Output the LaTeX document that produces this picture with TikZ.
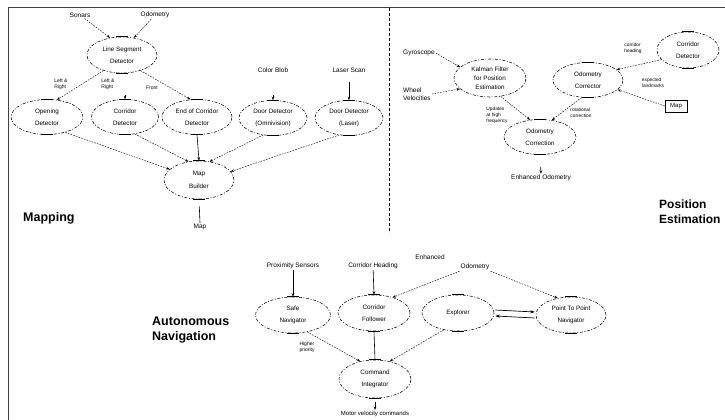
\documentclass[tikz,border=0pt]{standalone}
\usepackage{fontspec}
\setmainfont{Liberation Sans}
\usetikzlibrary{shapes.geometric,arrows.meta}
\begin{document}
\begin{tikzpicture}[x=1pt,y=-1pt,
  proc/.style={ellipse,draw,line width=0.55pt,dash pattern=on 3pt off 1.6pt on 1pt off 1.6pt,inner sep=0pt,align=center,font=\fontsize{6.3}{12.5}\selectfont,minimum width=70pt,minimum height=36pt},
  txt/.style={inner sep=1pt,font=\fontsize{6.5}{7.5}\selectfont,align=center},
  lab/.style={inner sep=0.5pt,font=\fontsize{5}{6}\selectfont,align=left},
  ttl/.style={inner sep=0pt,font=\fontsize{12.5}{15}\selectfont\bfseries,align=left,anchor=west},
  dline/.style={draw,line width=0.45pt,dash pattern=on 1.6pt off 1.2pt,-{Stealth[length=3.5pt,width=2.6pt]}},
  sline/.style={draw,line width=0.6pt,-{Stealth[length=3.5pt,width=2.6pt]}},
  pline/.style={draw,line width=0.6pt},
]
\useasboundingbox (0,0) rectangle (725,420);
% frame
\draw[line width=1pt,black!75] (8,420) -- (8,8) -- (725,8);
\draw[line width=0.7pt,dash pattern=on 3pt off 2pt] (389,8) -- (389,233);

% ---------------- Mapping ----------------
\node[txt] (sonars) at (80,15) {Sonars};
\node[txt] (odom1) at (155,15) {Odometry};
\node[proc] (lsd) at (122,55) {Line Segment\\Detector};
\node[proc,minimum width=72pt,minimum height=35pt] (open) at (47,117) {Opening\\Detector};
\node[proc,minimum width=67pt,minimum height=35pt] (corr) at (125,117) {Corridor\\Detector};
\node[proc,minimum width=70pt,minimum height=35pt] (eoc) at (197,117) {End of Corridor\\Detector};
\node[proc,minimum width=68pt,minimum height=35pt] (domni) at (273,118) {Door Detector\\(Omnivision)};
\node[proc,minimum width=68pt,minimum height=35pt] (dlaser) at (349,118) {Door Detector\\(Laser)};
\node[txt] (cblob) at (273,70) {Color Blob};
\node[txt] (lscan) at (349,70) {Laser Scan};
\node[proc,minimum height=38pt] (mapb) at (199,180) {Map\\Builder};
\node[txt] (map) at (200,227) {Map};
\node[lab] (lr1) at (61,84) {Left \&\\Right};
\node[lab] (lr2) at (108,84) {Left \&\\Right};
\node[lab] (front) at (152,88) {Front};
\node[ttl] (tmap) at (23,218) {Mapping};
\coordinate (corrin) at (125,95);
\coordinate (omniin) at (273,95);

\draw[dline] (sonars) -- (lsd.125);
\draw[dline] (odom1) -- (lsd.55);
\draw[dline] (lsd.220) -- (open.60);
\draw[dline] (lsd.-40) -- (eoc.110);
\draw[sline] (corrin) -- (corr.north);
\draw[sline] (omniin) -- (domni.north);
\draw[sline] ([yshift=-8pt]lscan.south) -- (dlaser.north);
\draw[dline] (open.-40) -- (mapb.160);
\draw[dline] (corr.-60) -- (mapb.120);
\draw[sline] (eoc.south) -- (mapb.north);
\draw[dline] (domni.-120) -- (mapb.60);
\draw[dline] (dlaser.-120) -- (mapb.15);
\draw[pline,shorten <=7pt] (mapb.south) -- (map.north);

% ---------------- Position Estimation ----------------
\node[txt,align=left,anchor=west] (gyro) at (402,53) {Gyroscope};
\node[txt,align=left,anchor=west] (wheel) at (402,94) {Wheel\\Velocities};
\node[proc,minimum width=72pt,minimum height=38pt,font=\fontsize{6.3}{9}\selectfont] (kalman) at (490,78) {Kalman Filter\\for Position\\Estimation};
\node[lab,font=\fontsize{4.8}{6}\selectfont] (upd) at (497,115) {Updates\\at high\\frequency};
\node[proc,minimum width=72pt,minimum height=35pt] (oc) at (540,137) {Odometry\\Correction};
\node[txt] (enh) at (541,178) {Enhanced Odometry};
\node[proc,minimum width=70pt,minimum height=35pt] (ocor) at (588,80) {Odometry\\Corrector};
\node[lab,font=\fontsize{4.8}{6}\selectfont] (rot) at (581,113) {rotational\\correction};
\node[proc,minimum width=62pt,minimum height=36pt] (cdet) at (688,50) {Corridor\\Detector};
\node[lab,font=\fontsize{4.8}{6}\selectfont] (chl) at (633,48) {corridor\\heading};
\node[lab,font=\fontsize{4.8}{6}\selectfont] (ell) at (653,83) {expected\\landmarks};
\node[draw,line width=0.6pt,inner sep=0pt,minimum width=22pt,minimum height=12pt,font=\fontsize{6}{7}\selectfont] (mapbox) at (676,106) {Map};
\node[ttl,font=\fontsize{12}{15}\selectfont\bfseries] (tpos) at (659,212) {Position\\Estimation};

\draw[dline] (gyro.east) -- (kalman.160);
\draw[dline] (wheel.east) -- (kalman.200);
\draw[dline] (kalman.-60) -- (oc.120);
\draw[dline] (ocor.-110) -- (oc.55);
\draw[dline] (cdet.200) -- (ocor.20);
\draw[dline] (mapbox.west) -- (ocor.-18);
\draw[sline,shorten <=12pt] (oc.south) -- (enh.north);

% ---------------- Autonomous Navigation ----------------
\node[txt] (prox) at (293,266) {Proximity Sensors};
\node[txt] (ch2) at (373,266) {Corridor Heading};
\node[txt] (enh1) at (430,257) {Enhanced};
\node[txt] (odo2) at (475,267) {Odometry};
\node[proc,minimum width=75pt] (safe) at (293,315) {Safe\\Navigator};
\node[proc,minimum width=72pt] (cf) at (374,313) {Corridor\\Follower};
\node[proc,minimum width=72pt] (expl) at (458,313) {Explorer};
\node[proc,minimum width=70pt] (ptp) at (571,315) {Point To Point\\Navigator};
\node[proc,minimum width=72pt,minimum height=38pt] (ci) at (375,379) {Command\\Integrator};
\node[txt,font=\fontsize{6}{7}\selectfont] (mvc) at (375,414) {Motor velocity commands};
\node[lab] (hp) at (307,347) {Higher\\priority};
\node[ttl] (tnav) at (152,330.5) {Autonomous\\Navigation};

\draw[sline] (prox) -- (safe.north);
\draw[sline] (ch2) -- (cf.north);
\draw[dline] (odo2.south west) -- (cf.40);
\draw[dline] (odo2.south east) -- (ptp.128);
\draw[line width=0.7pt,-{Stealth[length=4.5pt,width=3.2pt]}] ([xshift=1pt,yshift=3pt]expl.east) -- ([xshift=-1pt,yshift=3pt]ptp.west);
\draw[line width=0.7pt,-{Stealth[length=4.5pt,width=3.2pt]}] ([xshift=-1pt,yshift=-3pt]ptp.west) -- ([xshift=1pt,yshift=-3pt]expl.east);
\draw[dline] (safe.-50) -- (ci.130);
\draw[pline] (cf.south) -- (ci.north);
\draw[dline] (expl.-130) -- (ci.50);
\draw[sline,shorten <=4pt] (ci.south) -- (mvc.north);

% solid bars at top and bottom of the ellipses
\foreach \n in {lsd,open,corr,eoc,domni,dlaser,mapb,ocor,oc,cdet,safe,cf,expl,ptp,ci}{
  \draw[line width=0.9pt] ([xshift=-6pt]\n.north) -- ([xshift=6pt]\n.north);
  \draw[line width=0.9pt] ([xshift=-6pt]\n.south) -- ([xshift=6pt]\n.south);
}
\end{tikzpicture}
\end{document}
